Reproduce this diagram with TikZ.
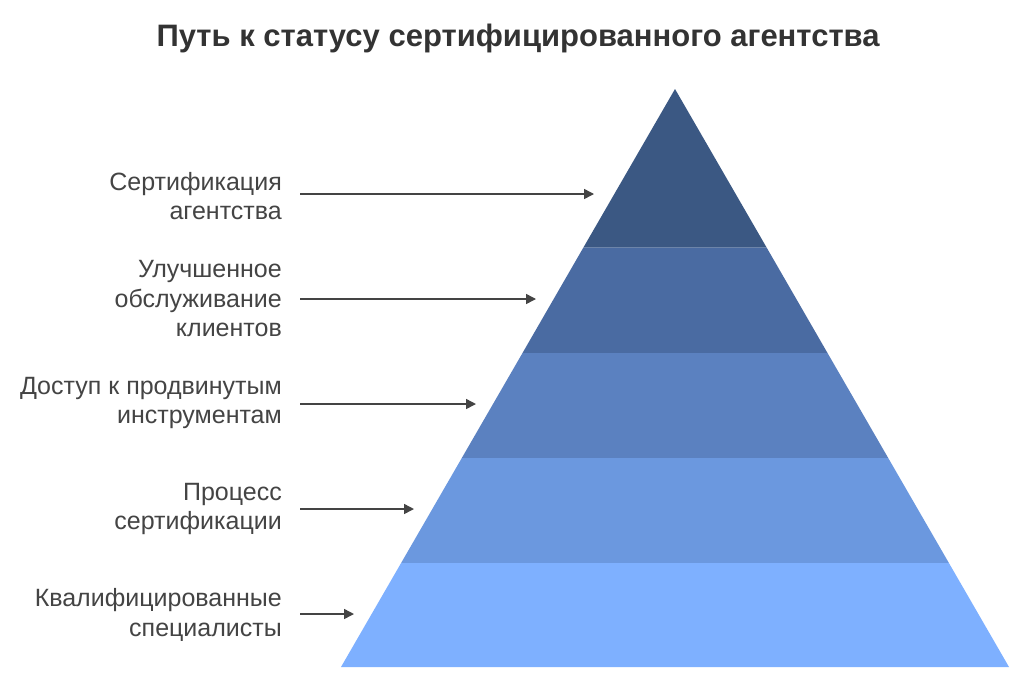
\documentclass[tikz,border=0pt]{standalone}
\usepackage{fontspec}
\setmainfont{Liberation Sans}
\usetikzlibrary{arrows.meta}
\definecolor{c1}{HTML}{3B5883}
\definecolor{c2}{HTML}{4A6BA2}
\definecolor{c3}{HTML}{5B81C0}
\definecolor{c4}{HTML}{6B98DF}
\definecolor{c5}{HTML}{7EB0FF}
\definecolor{txt}{HTML}{444444}
\definecolor{ttl}{HTML}{333333}
\begin{document}
\begin{tikzpicture}[x=1pt,y=-1pt,
  lab/.style={anchor=east,align=right,text=txt,inner sep=0pt,font=\fontsize{25}{29.5}\selectfont},
  conn/.style={draw=txt,line width=1.5pt,-{Triangle[length=10pt,width=10pt]}}]
\useasboundingbox (0,0) rectangle (1024,683);
\fill[white] (0,0) rectangle (1024,683);
% pyramid bands
\fill[c1] (675,89) -- (766.6,247.5) -- (583.4,247.5) -- cycle;
\fill[c2] (583.4,247.5) -- (766.6,247.5) -- (827.5,353) -- (522.5,353) -- cycle;
\fill[c3] (522.5,353) -- (827.5,353) -- (888.2,458) -- (461.8,458) -- cycle;
\fill[c4] (461.8,458) -- (888.2,458) -- (948.9,563) -- (401.1,563) -- cycle;
\fill[c5] (401.1,563) -- (948.9,563) -- (1009,667) -- (341,667) -- cycle;
% title
\node[text=ttl,font=\fontsize{31}{36}\selectfont\bfseries] (title) at (518,38) {Путь к статусу сертифицированного агентства};
% labels
\node[lab] (l1) at (282,196) {Сертификация\\агентства};
\node[lab] (l2) at (282,299) {Улучшенное\\обслуживание\\клиентов};
\node[lab] (l3) at (282,403) {Доступ к продвинутым\\инструментам};
\node[lab] (l4) at (282,509) {Процесс\\сертификации};
\node[lab] (l5) at (282,615) {Квалифицированные\\специалисты};
% arrow ends
\coordinate (s1) at (300,194); \coordinate (e1) at (594,194);
\coordinate (s2) at (300,299); \coordinate (e2) at (536,299);
\coordinate (s3) at (300,404); \coordinate (e3) at (476,404);
\coordinate (s4) at (300,509); \coordinate (e4) at (414,509);
\coordinate (s5) at (300,614); \coordinate (e5) at (354,614);
\foreach \i in {1,...,5} {\draw[conn] (s\i) -- (e\i);}
\end{tikzpicture}
\end{document}
